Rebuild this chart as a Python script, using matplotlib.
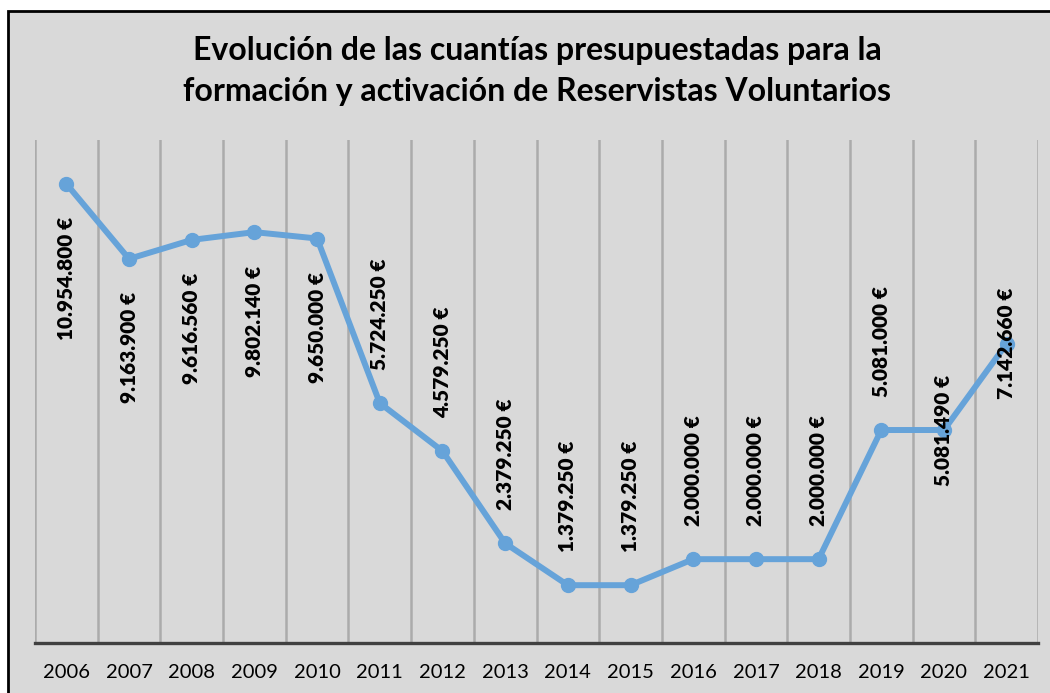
import matplotlib
matplotlib.use("Agg")
import matplotlib.pyplot as plt
from matplotlib.patches import Rectangle
import numpy as np

years = ["2006", "2007", "2008", "2009", "2010", "2011", "2012", "2013",
         "2014", "2015", "2016", "2017", "2018", "2019", "2020", "2021"]
amounts = [10954800, 9163900, 9616560, 9802140, 9650000, 5724250, 4579250, 2379250,
           1379250, 1379250, 2000000, 2000000, 2000000, 5081000, 5081490, 7142660]

# where each data label sits relative to its point
label_side = ["below"] * 5 + ["above"] * 9 + ["center"] * 2

BG = "#d9d9d9"
LINE = "#66a3d9"
FONT = "Lato"

fig = plt.figure(figsize=(10.5, 6.93), dpi=100, facecolor="white")
# chart frame (only the top and left edges are inside the picture)
fig.patches.append(Rectangle((7.5 / 1050, -0.2), 1.2, 1.2 - 10.5 / 693,
                             transform=fig.transFigure, fc=BG, ec="black", lw=2.0, zorder=-5))

ax = fig.add_axes([35 / 1050, 1 - 643 / 693, (1038 - 35) / 1050, (643 - 140) / 693])
ax.set_facecolor("none")
ax.set_zorder(2)

x = np.arange(len(years))
ax.plot(x, amounts, color=LINE, lw=4.3, marker="o", ms=10, solid_capstyle="round", zorder=3)

ax.set_xlim(-0.5, len(years) - 0.5)
ax.set_ylim(0, 12.0e6)
ax.set_xticks(x)
ax.set_xticklabels(years, fontsize=14.5, family=FONT)
ax.set_xticks(np.arange(-0.5, len(years)), minor=True)
ax.tick_params(axis="x", which="both", length=0, pad=15)
ax.grid(axis="x", which="minor", color="#ababab", lw=1.8)
ax.grid(axis="x", which="major", visible=False)
ax.set_yticks([])
for s in ("top", "left", "right"):
    ax.spines[s].set_visible(False)
ax.spines["bottom"].set_color("#404040")
ax.spines["bottom"].set_linewidth(2.4)

for xi, v, side in zip(x, amounts, label_side):
    txt = f"{v:,}".replace(",", ".") + " €"
    if side == "below":
        off, va = (0, -24), "top"
    elif side == "above":
        off, va = (0, 24), "bottom"
    else:
        off, va = (0, 0), "center"
    ax.annotate(txt, (xi, v), xytext=off, textcoords="offset points",
                rotation=90, ha="center", va=va, fontsize=15, fontweight="heavy",
                family=FONT, zorder=4)

fig.text(537 / 1050, 1 - 71 / 693,
         "Evolución de las cuantías presupuestadas para la\nformación y activación de Reservistas Voluntarios",
         ha="center", va="center", fontsize=23, fontweight="bold", family=FONT, linespacing=1.5)

fig.savefig("out.png", dpi=100, facecolor="white")
